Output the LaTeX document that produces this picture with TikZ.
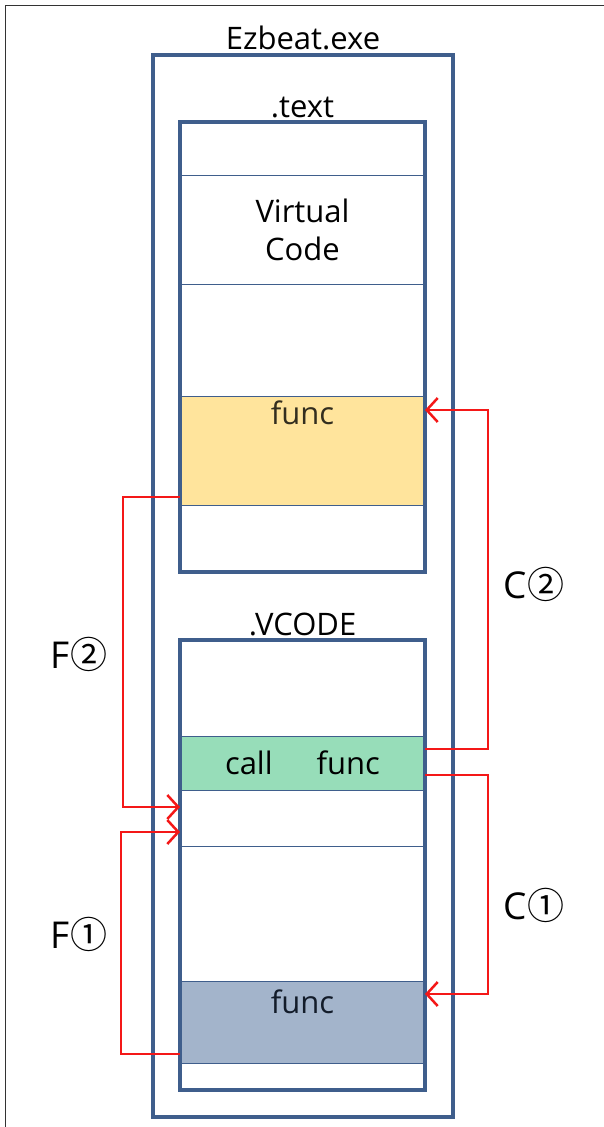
\documentclass[tikz,border=0pt]{standalone}
\usepackage{fontspec}
\setmainfont{Open Sans}
\newfontfamily\cjk{Noto Sans CJK KR}
\usetikzlibrary{arrows.meta,positioning,calc}
\definecolor{Frame}{HTML}{3F5E8C}
\definecolor{Gold}{HTML}{FFE49C}
\definecolor{Mint}{HTML}{97DDB9}
\definecolor{Slate}{HTML}{A3B4CB}
\definecolor{Jump}{HTML}{F41818}
\newcommand{\bigtxt}{\fontsize{31}{38}\selectfont}
\newcommand{\tagtxt}{\fontsize{37}{40}\selectfont}

\begin{document}
\begin{tikzpicture}[x=1pt,y=-1pt,>={Straight Barb[length=11pt,width=24pt]},
    sect/.style={draw=Frame,line width=4pt,inner sep=0pt,outer sep=0pt,anchor=north west,minimum width=245pt,minimum height=450pt},
    row/.style={draw=Frame,line width=0.9pt,inner sep=0pt,outer sep=0pt,anchor=north west,minimum width=245pt,font=\bigtxt},
    lbl/.style={inner sep=0pt,font=\bigtxt},
    tag/.style={inner sep=0pt,font=\tagtxt},
    link/.style={draw=Jump,line width=2.5pt,->}]
    \useasboundingbox (0,0) rectangle (604,1127);
    \draw[black!80,line width=1pt] (5,1127) |- (604,5);
    % rows of .text
    \node[row,minimum height=109pt,align=center] (virt) at (180,175) {Virtual\\Code};
    \node[row,fill=Gold,minimum height=109pt] (fYel) at (180,396) {};
    \node[lbl,text=Gold!20!black] (fYelTxt) at (302.5,413) {func};
    % rows of .VCODE
    \node[row,fill=Mint,minimum height=54pt] (call) at (180,736) {call\hspace{44pt}func};
    \node[row,minimum height=56pt] (gap) at (180,790) {};
    \node[row,fill=Slate,minimum height=82pt] (fBlu) at (180,981) {};
    \node[lbl,text=Frame!30!black] (fBluTxt) at (302.5,1002) {func};
    % boxes
    \node[sect,minimum width=300pt,minimum height=1062pt] (exe) at (153,55) {};
    \node[sect] (text) at (180,122) {};
    \node[sect] (vcode) at (180,640) {};
    \node[lbl,above=5pt of exe.north] (exeLbl) {Ezbeat.exe};
    \node[lbl,above=4pt of text.north] (textLbl) {.text};
    \node[lbl,above=4pt of vcode.north] (vcodeLbl) {.VCODE};
    % jumps
    \draw[link] ([yshift=14pt]call.east) -- ++(63,0) |- ([yshift=-14pt]fYel.north east);
    \draw[link] ([yshift=-12pt]call.east) -- ++(63,0) |- ([yshift=-13pt]fBlu.north east);
    \draw[link] ([yshift=8pt]fYel.south west) -- ++(-57,0) |- ([yshift=11pt]gap.west);
    \draw[link] ([yshift=9pt]fBlu.south west) -- ++(-59,0) |- ([yshift=-14pt]gap.west);
    \node[tag] (c2) at (534,584) {C{\cjk ②}};
    \node[tag] (c1) at (534,905) {C{\cjk ①}};
    \node[tag] (f2) at (79,654) {F{\cjk ②}};
    \node[tag] (f1) at (79,934) {F{\cjk ①}};
\end{tikzpicture}
\end{document}
